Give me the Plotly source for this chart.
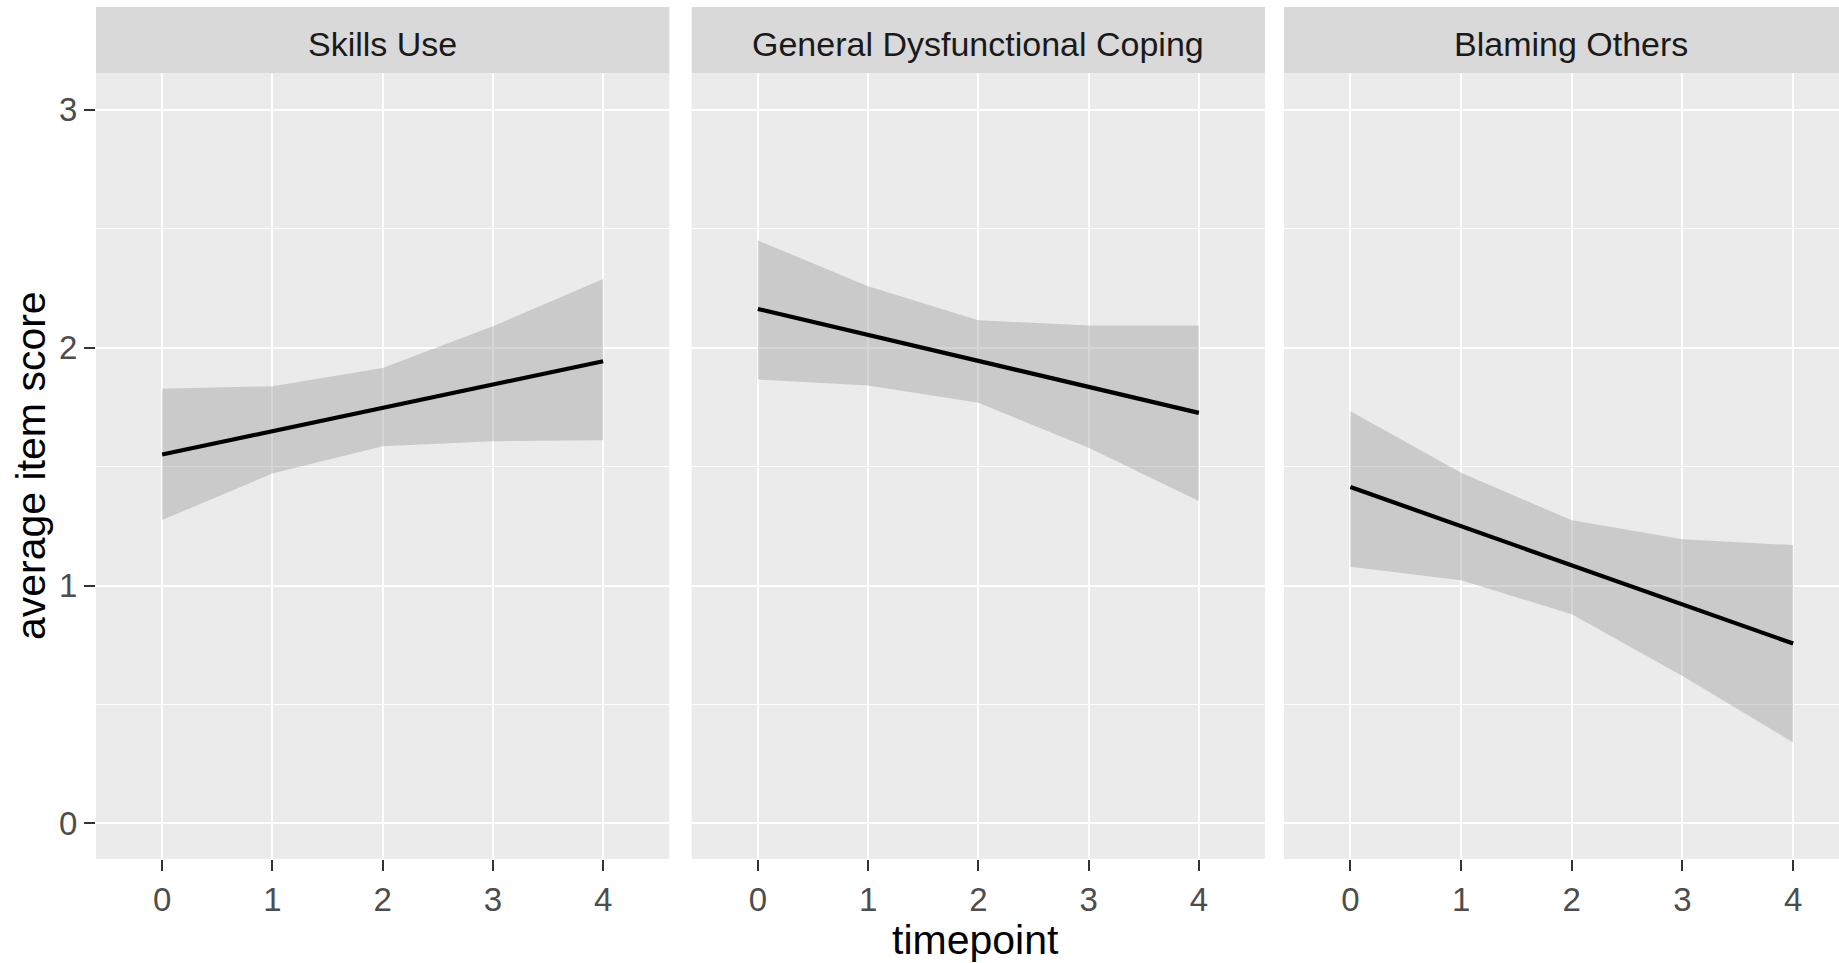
import plotly.graph_objects as go

# ---- data ----
timepoints = [0, 1, 2, 3, 4]
tick_labels = ["0", "1", "2", "3", "4"]
panels = ["Skills Use", "General Dysfunctional Coping", "Blaming Others"]

skills_fit = [1.551, 1.649, 1.747, 1.845, 1.943]
skills_lower = [1.275, 1.471, 1.586, 1.607, 1.611]
skills_upper = [1.827, 1.838, 1.915, 2.090, 2.289]

gdc_fit = [2.163, 2.054, 1.945, 1.835, 1.726]
gdc_lower = [1.866, 1.841, 1.768, 1.579, 1.355]
gdc_upper = [2.451, 2.258, 2.115, 2.093, 2.093]

bo_fit = [1.414, 1.250, 1.085, 0.921, 0.756]
bo_lower = [1.079, 1.022, 0.879, 0.620, 0.340]
bo_upper = [1.733, 1.474, 1.274, 1.194, 1.170]

y_ticks = [0, 1, 2, 3]

# ---- styling / layout ----
FONT = "Liberation Sans, Arial, sans-serif"
W, H = 1839, 963
ML, MR, MT, MB = 96, 0, 7, 104
plot_w = W - ML - MR
plot_h = H - MT - MB

def px_x(p):
    return (p - ML) / plot_w

def px_y(p):
    return (H - MB - p) / plot_h

domains = [
    [px_x(96), px_x(669.3)],
    [px_x(691.7), px_x(1265)],
    [px_x(1284), 1.0],
]
panel_top = px_y(73)
x_ranges = [[-0.6, 4.6], [-0.6, 4.6], [-0.6, 4.414]]
y_range = [-0.15, 3.155]

fits = [skills_fit, gdc_fit, bo_fit]
lowers = [skills_lower, gdc_lower, bo_lower]
uppers = [skills_upper, gdc_upper, bo_upper]

fig = go.Figure()
for i in range(3):
    xa = "x" if i == 0 else f"x{i+1}"
    ya = "y" if i == 0 else f"y{i+1}"
    fig.add_trace(go.Scatter(
        x=timepoints + timepoints[::-1],
        y=uppers[i] + lowers[i][::-1],
        fill="toself", fillcolor="rgba(153,153,153,0.4)",
        line=dict(width=0), mode="lines", hoverinfo="skip",
        xaxis=xa, yaxis=ya, showlegend=False))
    fig.add_trace(go.Scatter(
        x=timepoints, y=fits[i], mode="lines",
        line=dict(color="black", width=4.2),
        xaxis=xa, yaxis=ya, showlegend=False))

layout = dict(
    width=W, height=H,
    margin=dict(l=ML, r=MR, t=MT, b=MB, pad=0),
    paper_bgcolor="white", plot_bgcolor="#EBEBEB",
    font=dict(family=FONT, color="#4D4D4D", size=33),
    showlegend=False,
)

for i in range(3):
    xk = "xaxis" if i == 0 else f"xaxis{i+1}"
    yk = "yaxis" if i == 0 else f"yaxis{i+1}"
    ya = "y" if i == 0 else f"y{i+1}"
    xa = "x" if i == 0 else f"x{i+1}"
    layout[xk] = dict(
        domain=domains[i], anchor=ya, range=x_ranges[i],
        tickmode="array", tickvals=timepoints, ticktext=tick_labels,
        showgrid=True, gridcolor="white", gridwidth=2.1,
        zeroline=False, showline=False,
        ticks="outside", ticklen=11, tickwidth=2, tickcolor="#333333",
        tickfont=dict(family=FONT, size=33, color="#4D4D4D"),
        fixedrange=True, automargin=False,
    )
    layout[yk] = dict(
        domain=[0, panel_top], anchor=xa, range=y_range,
        tickmode="array", tickvals=y_ticks,
        ticktext=[str(v) for v in y_ticks],
        showgrid=True, gridcolor="white", gridwidth=2.1,
        minor=dict(tickmode="array", tickvals=[0.5, 1.5, 2.5],
                   showgrid=True, gridcolor="white", gridwidth=1.1, ticks=""),
        zeroline=False, showline=False,
        ticks="outside" if i == 0 else "", ticklen=11, tickwidth=2,
        tickcolor="#333333",
        showticklabels=(i == 0),
        tickfont=dict(family=FONT, size=33, color="#4D4D4D"),
        fixedrange=True, automargin=False,
    )
    if i > 0:
        layout[yk]["matches"] = "y"

shapes = []
annotations = []
for i, name in enumerate(panels):
    shapes.append(dict(type="rect", xref="paper", yref="paper",
                       x0=domains[i][0], x1=domains[i][1],
                       y0=panel_top, y1=1.0,
                       fillcolor="#D9D9D9", line=dict(width=0), layer="below"))
    annotations.append(dict(
        text=name, xref="paper", yref="paper",
        x=(domains[i][0] + (domains[i][1] if i < 2 else px_x(1858))) / 2,
        y=px_y(43.5), xanchor="center", yanchor="middle",
        showarrow=False, font=dict(family=FONT, size=34, color="#1A1A1A")))

annotations.append(dict(
    text="timepoint", xref="paper", yref="paper",
    x=px_x(975.5), y=px_y(940), xanchor="center", yanchor="middle",
    showarrow=False, font=dict(family=FONT, size=41, color="black")))
annotations.append(dict(
    text="average item score", xref="paper", yref="paper",
    x=px_x(31), y=px_y(466), xanchor="center", yanchor="middle",
    textangle=-90, showarrow=False,
    font=dict(family=FONT, size=41, color="black")))

layout["shapes"] = shapes
layout["annotations"] = annotations
fig.update_layout(**layout)

fig.write_html(
    "out.html",
    config=dict(displayModeBar=False),
    post_script="document.body.style.margin='0';document.body.style.overflow='hidden';",
)
